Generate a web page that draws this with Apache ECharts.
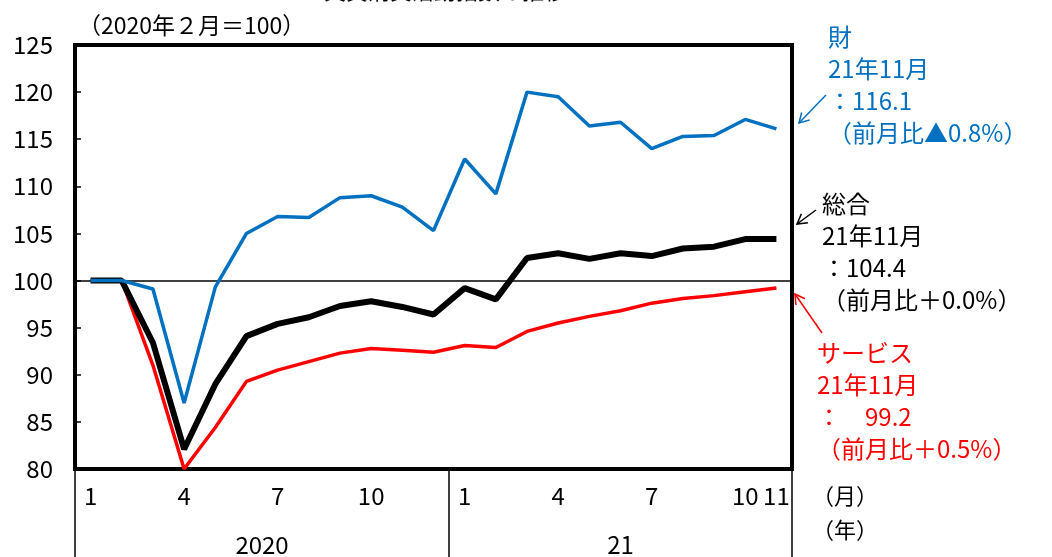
<!DOCTYPE html>
<html>
<head>
<meta charset="utf-8">
<script src="https://cdn.jsdelivr.net/npm/echarts@6/dist/echarts.min.js"></script>
<style>
  html, body { margin: 0; padding: 0; background: #fff; }
  #chart { width: 1052px; height: 557px; }
</style>
</head>
<body>
<div id="chart"></div>
<script>
// Monthly categories: Jan 2020 – Nov 2021
const months = ['1','2','3','4','5','6','7','8','9','10','11','12',
                '1','2','3','4','5','6','7','8','9','10','11'];
const years = ['2020', '21'];
const yearStart = [0, 12];           // first month index of each year
const shownMonths = [0, 3, 6, 9, 12, 15, 18, 21, 22];

// Indices (2020年2月=100)
const goods = [100.0, 100.0, 99.1, 87.0, 99.3, 105.0, 106.8, 106.7, 108.8, 109.0, 107.8, 105.3,
               112.9, 109.2, 120.0, 119.5, 116.4, 116.8, 114.0, 115.3, 115.4, 117.1, 116.1];
const total = [100.0, 100.0, 93.4, 82.1, 89.0, 94.1, 95.4, 96.1, 97.3, 97.8, 97.2, 96.4,
               99.2, 98.0, 102.4, 102.9, 102.3, 102.9, 102.6, 103.4, 103.6, 104.4, 104.4];
const services = [100.0, 100.0, 91.0, 80.0, 84.4, 89.3, 90.5, 91.4, 92.3, 92.8, 92.6, 92.4,
                  93.1, 92.9, 94.6, 95.5, 96.2, 96.8, 97.6, 98.1, 98.4, 98.8, 99.2];

const yMin = 80, yMax = 125, yStep = 5;

const FONT = '"Noto Sans CJK JP", "Noto Sans", sans-serif';
const BLUE = '#0070C0', RED = '#FF0000', BLACK = '#000000';

const chart = echarts.init(document.getElementById('chart'), null, { renderer: 'canvas' });

const option = {
  animation: false,
  backgroundColor: '#fff',
  textStyle: { fontFamily: FONT },
  grid: {
    left: 75, right: 260, top: 45, bottom: 88,
    show: true, borderColor: BLACK, borderWidth: 4, backgroundColor: 'transparent'
  },
  xAxis: {
    type: 'category',
    data: months,
    boundaryGap: true,
    axisLine: { lineStyle: { color: BLACK, width: 4 } },
    axisTick: {
      show: true,
      interval: (i) => i === 0 || i === 12 || i === 23,
      length: 92,
      lineStyle: { color: BLACK, width: 1.5 }
    },
    axisLabel: {
      interval: (i) => shownMonths.indexOf(i) >= 0,
      color: BLACK, fontFamily: FONT, fontSize: 24, margin: 15
    },
    splitLine: { show: false }
  },
  yAxis: {
    type: 'value',
    min: yMin, max: yMax, interval: yStep,
    axisLine: { show: true, lineStyle: { color: BLACK, width: 4 } },
    axisTick: { show: true, inside: true, length: 6, lineStyle: { color: BLACK, width: 1.5 } },
    axisLabel: { color: BLACK, fontFamily: FONT, fontSize: 24, margin: 22 },
    splitLine: { show: false }
  },
  series: [
    {
      name: 'サービス', type: 'line', data: services, z: 3,
      symbol: 'none', lineStyle: { color: RED, width: 3.5 }
    },
    {
      name: '総合', type: 'line', data: total, z: 4,
      symbol: 'none', lineStyle: { color: BLACK, width: 6 },
      markLine: {
        silent: true, symbol: 'none', label: { show: false },
        lineStyle: { color: BLACK, width: 1.5, type: 'solid' },
        data: [{ yAxis: 100 }]
      }
    },
    {
      name: '財', type: 'line', data: goods, z: 5,
      symbol: 'none', lineStyle: { color: BLUE, width: 3.5 }
    }
  ]
};

chart.setOption(option);

// Year labels centred under each year's span of months
function yearGraphics() {
  const out = [];
  years.forEach((y, k) => {
    const first = yearStart[k];
    const last = k + 1 < yearStart.length ? yearStart[k + 1] - 1 : months.length - 1;
    const x0 = chart.convertToPixel({ xAxisIndex: 0 }, first);
    const x1 = chart.convertToPixel({ xAxisIndex: 0 }, last);
    out.push({
      type: 'text', x: (x0 + x1) / 2, y: 545,
      style: { text: y, fontFamily: FONT, fontSize: 24, fill: BLACK, align: 'center', verticalAlign: 'middle' }
    });
  });
  return out;
}

function arrow(x1, y1, x2, y2, color) {
  const ang = Math.atan2(y2 - y1, x2 - x1);
  const len = 11, spread = Math.PI / 6;
  const a = [x2 - len * Math.cos(ang - spread), y2 - len * Math.sin(ang - spread)];
  const b = [x2 - len * Math.cos(ang + spread), y2 - len * Math.sin(ang + spread)];
  return [
    { type: 'line', shape: { x1, y1, x2, y2 }, style: { stroke: color, lineWidth: 1.5 } },
    { type: 'polyline', shape: { points: [a, [x2, y2], b] }, style: { stroke: color, lineWidth: 1.5, fill: null } }
  ];
}

function block(x, y, text, color) {
  return {
    type: 'text', x, y,
    style: { text, fontFamily: FONT, fontSize: 24, fill: color, lineHeight: 32, align: 'left', verticalAlign: 'top' }
  };
}

chart.setOption({
  graphic: [
    { type: 'text', x: 445, y: 2,
      style: { text: '実質消費活動指数の推移', fontFamily: FONT, fontSize: 22, fill: BLACK, align: 'center', verticalAlign: 'bottom' } },
    { type: 'text', x: 78, y: 25,
      style: { text: '（2020年２月＝100）', fontFamily: FONT, fontSize: 23, fill: BLACK, align: 'left', verticalAlign: 'middle' } },
    { type: 'text', x: 812, y: 496,
      style: { text: '（月）', fontFamily: FONT, fontSize: 22, fill: BLACK, align: 'left', verticalAlign: 'middle' } },
    { type: 'text', x: 812, y: 530,
      style: { text: '（年）', fontFamily: FONT, fontSize: 22, fill: BLACK, align: 'left', verticalAlign: 'middle' } },
    block(828, 21, '財\n21年11月\n：116.1\n（前月比▲0.8%）', BLUE),
    block(822, 188, '総合\n21年11月\n：104.4\n（前月比＋0.0%）', BLACK),
    block(817, 337, 'サービス\n21年11月\n：　99.2\n（前月比＋0.5%）', RED),
    ...arrow(826, 95, 799, 123, BLUE),
    ...arrow(816, 210, 797, 224, BLACK),
    ...arrow(822, 333, 795, 294, RED),
    ...yearGraphics()
  ]
});
</script>
</body>
</html>
